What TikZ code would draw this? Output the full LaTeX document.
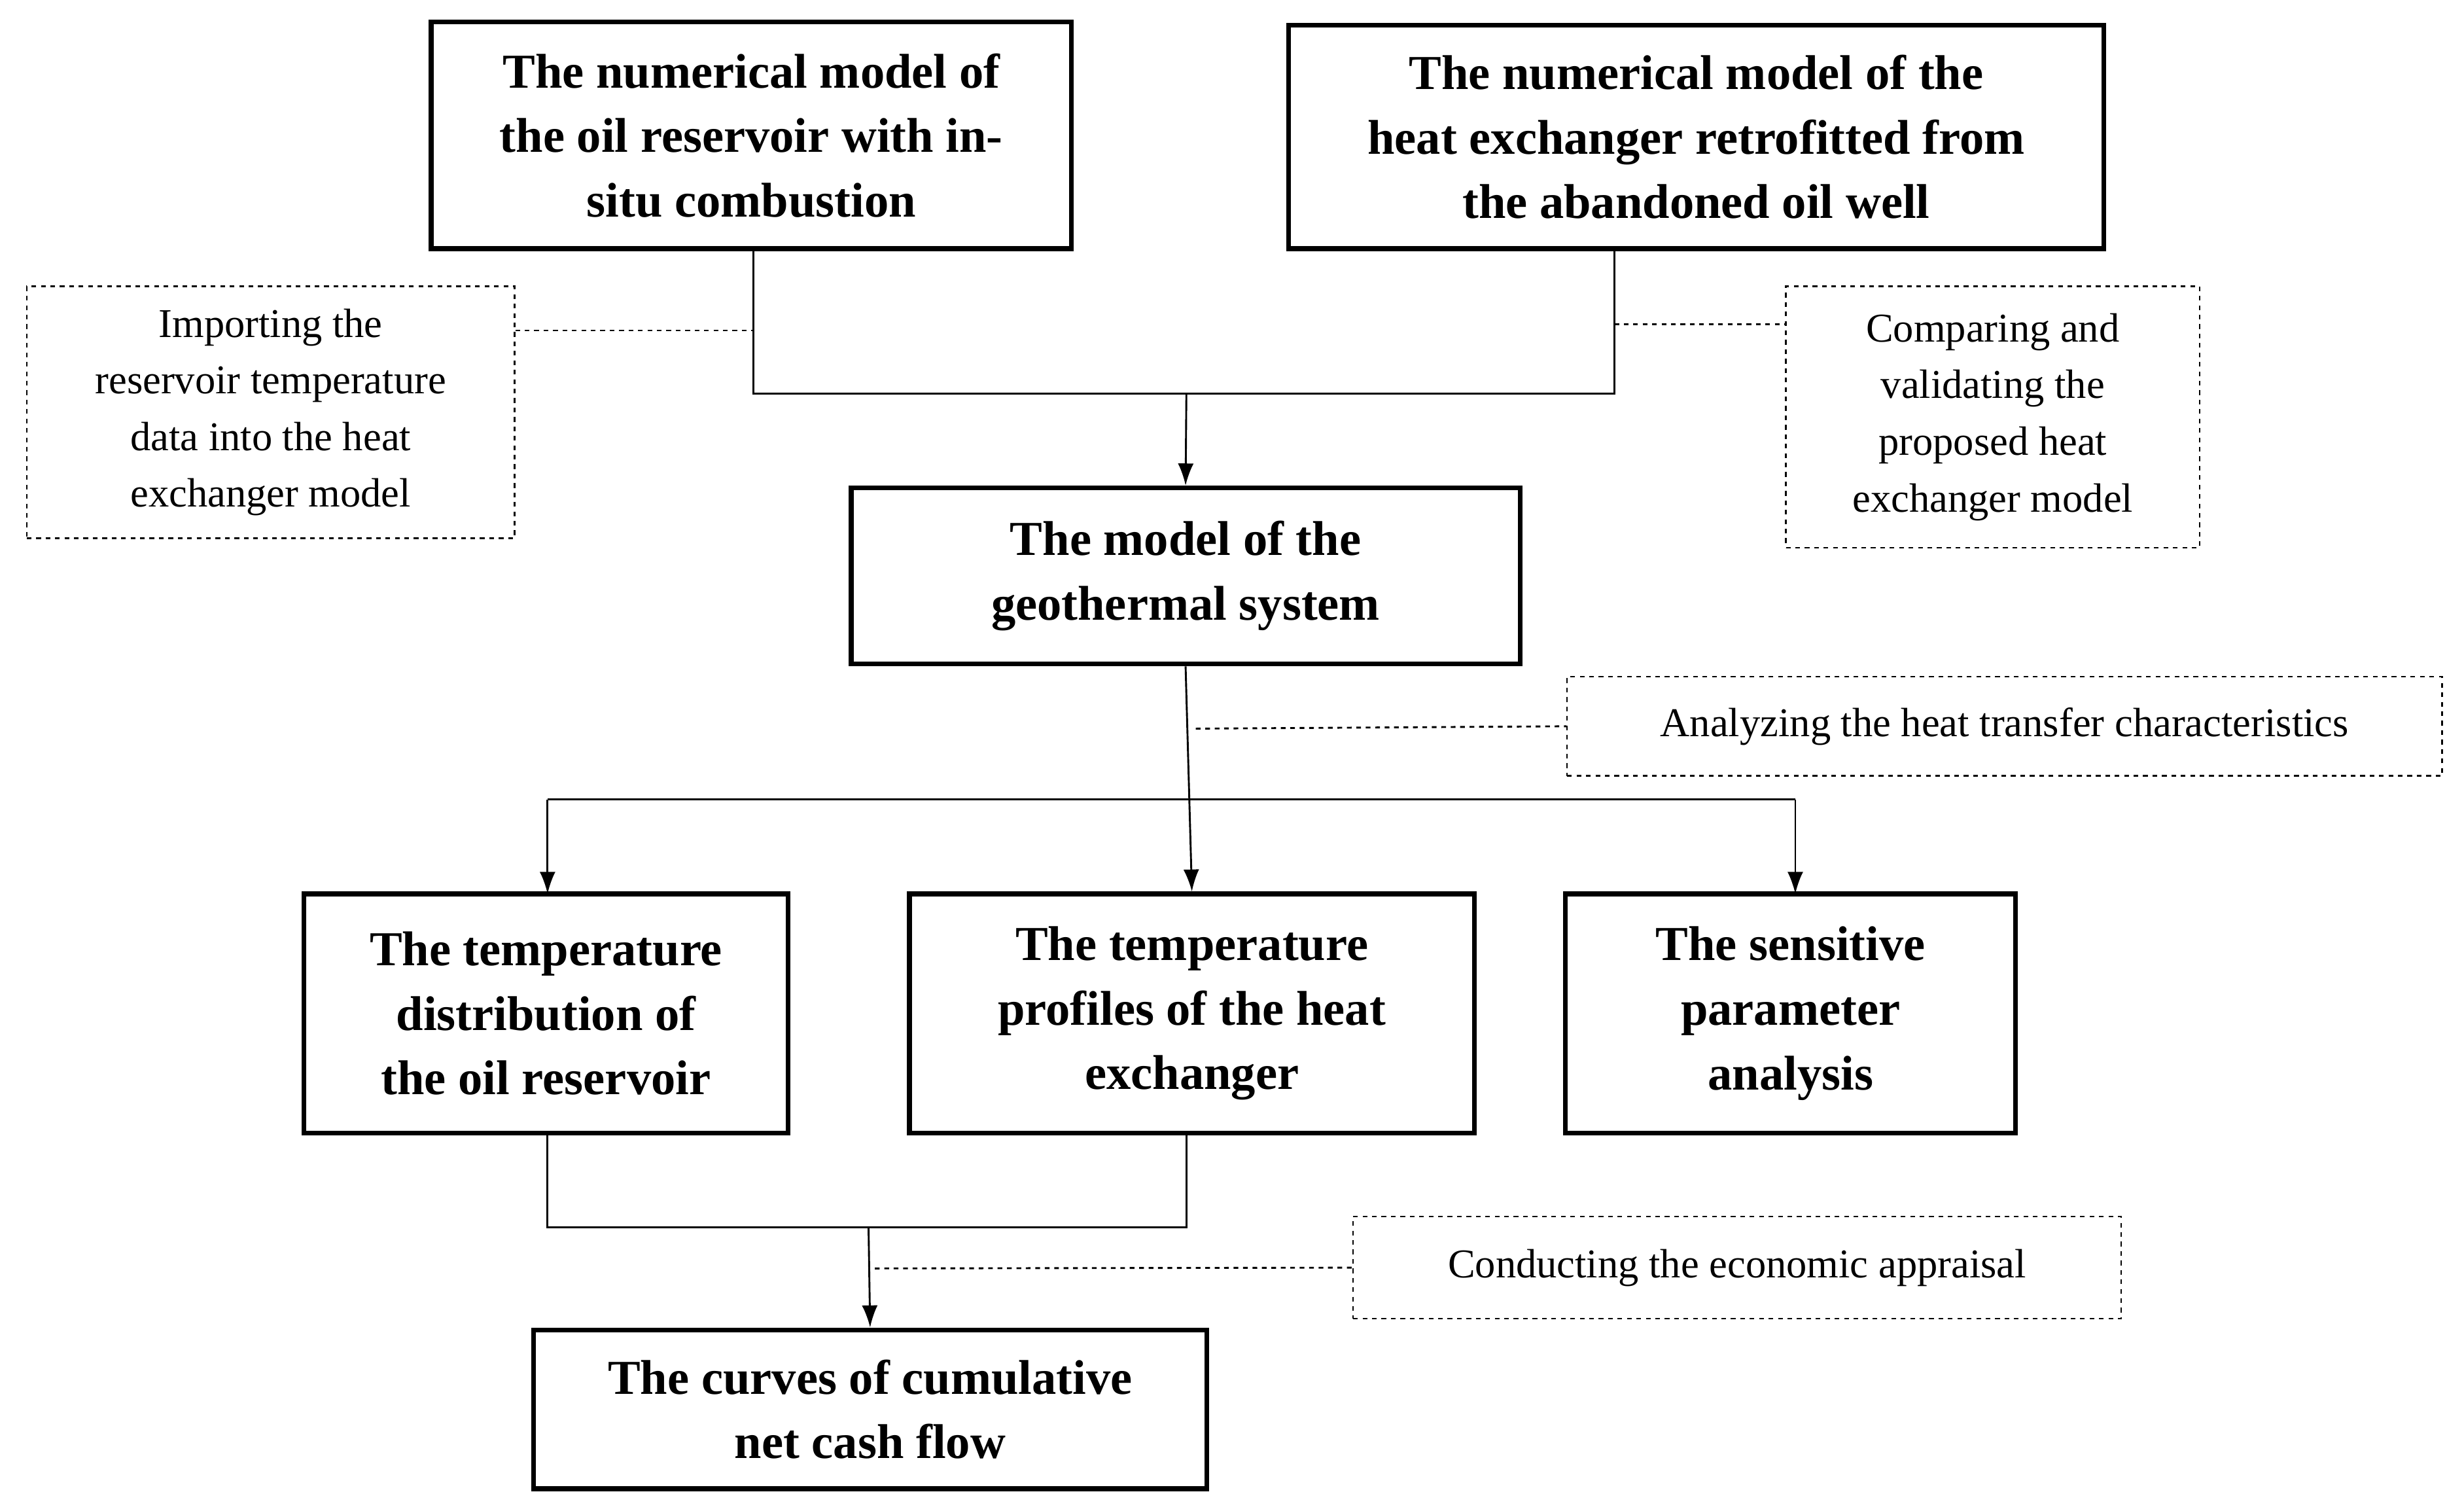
\documentclass[tikz,border=0pt]{standalone}
\usepackage{fontspec}
\setmainfont{Liberation Serif}
\usetikzlibrary{arrows.meta}
\begin{document}
\begin{tikzpicture}[x=1pt,y=-1pt,
 box/.style={draw,line width=3pt,align=center,inner sep=0pt,font=\fontsize{31}{41}\selectfont\bfseries},
 dbox/.style={draw,dashed,line width=1pt,align=center,inner sep=0pt,font=\fontsize{26}{36}\selectfont},
 ln/.style={line width=1.2pt},
 arr/.style={ln,-{Latex[length=14pt,width=10pt]}},
 dl/.style={ln,dashed}]
\useasboundingbox (0,0) rectangle (1566,960);
\node[box,minimum width=407,minimum height=144] (b1) at (477.5,86) {The numerical model of\\the oil reservoir with in-\\situ combustion};
\node[box,minimum width=518,minimum height=142] (b2) at (1078,87) {The numerical model of the\\heat exchanger retrofitted from\\the abandoned oil well};
\node[dbox,minimum width=310,minimum height=160] (d1) at (172,262) {Importing the\\reservoir temperature\\data into the heat\\exchanger model};
\node[dbox,minimum width=263,minimum height=166] (d2) at (1266.5,265) {Comparing and\\validating the\\proposed heat\\exchanger model};
\node[box,minimum width=425,minimum height=112] (b3) at (753.5,366) {The model of the\\geothermal system};
\node[dbox,minimum width=556,minimum height=63] (d3) at (1274,461.5) {Analyzing the heat transfer characteristics};
\node[box,minimum width=308,minimum height=152] (b4) at (347,644) {The temperature\\distribution of\\the oil reservoir};
\node[box,minimum width=359,minimum height=152] (b5) at (757.5,644) {The temperature\\profiles of the heat\\exchanger};
\node[box,minimum width=286,minimum height=152] (b6) at (1138,644) {The sensitive\\parameter\\analysis};
\node[dbox,minimum width=488,minimum height=65] (d4) at (1104,805.5) {Conducting the economic appraisal};
\node[box,minimum width=428,minimum height=101] (b7) at (553,895.5) {The curves of cumulative\\net cash flow};
\coordinate (j1) at (754,250);
\draw[ln] (479,158) |- (j1) -| (1026,158);
\draw[arr] (j1) -- (b3.north);
\draw[dl] (d1.east |- 0,210) -- (479,210);
\draw[dl] (1026,206) -- (d2.west |- 0,206);
\draw[arr] (b3.south) -- (b5.north);
\draw[dl] (760,463) -- (d3.west);
\draw[ln] (348,508) -- (1141,508);
\draw[arr] (348,508) -- (348,568);
\draw[arr] (1141,508) -- (1141,568);
\coordinate (j2) at (552,780);
\draw[ln] (348,720) |- (j2) -| (754,720);
\draw[arr] (j2) -- (b7.north);
\draw[dl] (556,806) -- (d4.west);
\end{tikzpicture}
\end{document}
